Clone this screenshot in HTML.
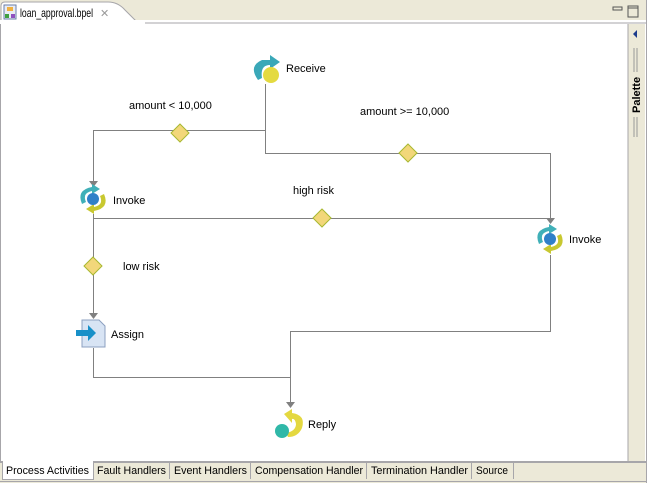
<!DOCTYPE html>
<html><head><style>
body{margin:0;width:647px;height:483px;overflow:hidden;background:#fff;font-family:"Liberation Sans",sans-serif;font-size:11px;}
.abs{position:absolute}
</style></head><body>
<div class="abs" style="left:0;top:0;width:647px;height:483px;background:#ECE9D8"></div>
<div class="abs" style="left:0;top:22px;width:645px;height:440px;background:#fff;border:1px solid #A7A6AA;border-top:none"></div>
<svg class="abs" style="left:0;top:0" width="647" height="483">
<path d="M1,24 L1,6 Q1,2 5,2 L108,2 Q118,2 125,10 L135,20 Q138,23 145,23 L646,23" fill="#fff" stroke="#A7A6AA"/>
<rect x="0" y="20" width="646" height="4" fill="#fff"/>
<line x1="145" y1="23" x2="646" y2="23" stroke="#A7A6AA"/>
<rect x="4" y="5" width="12" height="14" fill="#E8ECF4" stroke="#6A7EA8"/>
<rect x="7" y="7" width="6" height="4" fill="#F0B040"/>
<rect x="5" y="14" width="4" height="4" fill="#40A040"/>
<rect x="11" y="14" width="4" height="4" fill="#9050C0"/>
<text x="20" y="17" font-size="12" fill="#000" textLength="73" lengthAdjust="spacingAndGlyphs">loan_approval.bpel</text>
<text x="100" y="17" font-size="11" fill="#999">✕</text>
<rect x="613" y="7" width="9" height="3" fill="none" stroke="#555"/>
<rect x="628" y="6" width="10" height="11" fill="none" stroke="#555"/>
<line x1="628" y1="8" x2="638" y2="8" stroke="#555"/>
<rect x="628" y="24" width="17" height="437" fill="#ECE9D8"/>
<line x1="628" y1="24" x2="628" y2="461" stroke="#A7A6AA"/>
<path d="M637,30 L633,34 L637,38 Z" fill="#1C3C8C"/>
<line x1="634" y1="48" x2="634" y2="72" stroke="#999"/><line x1="637" y1="48" x2="637" y2="72" stroke="#999"/>
<line x1="634" y1="117" x2="634" y2="137" stroke="#999"/><line x1="637" y1="117" x2="637" y2="137" stroke="#999"/>
<text transform="translate(640,113) rotate(-90)" font-size="11" font-weight="bold" fill="#000">Palette</text>
<g stroke="#808080" fill="none" stroke-width="1">
<path d="M265.5,84 V130.5 H93.5 V182"/>
<path d="M265.5,130 V153.5 H550.5 V219"/>
<path d="M93.5,214 V218.5 H550.5"/>
<path d="M93.5,218 V314"/>
<path d="M93.5,348 V377.5 H290.5"/>
<path d="M550.5,255 V331.5 H290.5 V403"/>
</g>
<g fill="#808080">
<path d="M89,181 L98,181 L93.5,187 Z"/>
<path d="M546,218 L555,218 L550.5,224 Z"/>
<path d="M89,313 L98,313 L93.5,319 Z"/>
<path d="M286,402 L295,402 L290.5,408 Z"/>
</g>
<g fill="#F2D77A" stroke="#A8B830">
<path d="M180,124 L189,133 L180,142 L171,133 Z"/>
<path d="M408,144 L417,153 L408,162 L399,153 Z"/>
<path d="M322,209 L331,218 L322,227 L313,218 Z"/>
<path d="M93,257 L102,266 L93,275 L84,266 Z"/>
</g>
<path d="M258,80 Q248,66 262,60 L270,60 L270,55 L280,62 L270,69 L270,65 Q260,65 262,78 Z" fill="#3AA8B8"/>
<circle cx="271" cy="75" r="8" fill="#E4DA40"/>
<path d="M82,204 Q76,190 92,187 L92,184 L100,189 L92,194 L92,191 Q82,193 86,202 Z" fill="#40B0B8"/>
<path d="M104,194 Q110,208 94,211 L94,214 L86,209 L94,204 L94,207 Q104,205 100,196 Z" fill="#C8C830"/>
<circle cx="93" cy="199" r="6" fill="#3080C8"/>
<path d="M539,244 Q533,230 549,227 L549,224 L557,229 L549,234 L549,231 Q539,233 543,242 Z" fill="#40B0B8"/>
<path d="M561,234 Q567,248 551,251 L551,254 L543,249 L551,244 L551,247 Q561,245 557,236 Z" fill="#C8C830"/>
<circle cx="550" cy="239" r="6" fill="#3080C8"/>
<path d="M82,320 L99,320 L105,326 L105,347 L82,347 Z" fill="#D8E4F4" stroke="#8CA0C0"/>
<path d="M76,330 L88,330 L88,325 L96,333 L88,341 L88,336 L76,336 Z" fill="#1890C8"/>
<path d="M284,414 L292,409 L292,413 Q306,415 302,428 Q298,437 288,437 L286,433 Q296,431 296,424 Q295,418 292,419 L292,423 Z" fill="#E4D840"/>
<circle cx="282" cy="431" r="7" fill="#30B8A8"/>
<g font-size="11" fill="#000">
<text x="286" y="72">Receive</text>
<text x="113" y="204">Invoke</text>
<text x="569" y="243">Invoke</text>
<text x="111" y="338">Assign</text>
<text x="308" y="428">Reply</text>
<text x="129" y="109">amount &lt; 10,000</text>
<text x="360" y="115">amount &gt;= 10,000</text>
<text x="293" y="194">high risk</text>
<text x="123" y="270">low risk</text>
</g>
<rect x="630" y="447" width="13" height="13" fill="#ECE9D8"/>
<line x1="0" y1="461.5" x2="646" y2="461.5" stroke="#A7A6AA"/>
<rect x="2.5" y="461.5" width="91" height="18" fill="#fff" stroke="#A7A6AA"/>
<line x1="3" y1="461.5" x2="93" y2="461.5" stroke="#fff"/>
<g stroke="#A7A6AA"><line x1="169.5" y1="463" x2="169.5" y2="479"/><line x1="250.5" y1="463" x2="250.5" y2="479"/><line x1="366.5" y1="463" x2="366.5" y2="479"/><line x1="471.5" y1="463" x2="471.5" y2="479"/><line x1="513.5" y1="463" x2="513.5" y2="479"/></g>
<g font-size="11" fill="#000" lengthAdjust="spacingAndGlyphs">
<text x="6" y="474" textLength="83" lengthAdjust="spacingAndGlyphs">Process Activities</text>
<text x="97" y="474" textLength="69" lengthAdjust="spacingAndGlyphs">Fault Handlers</text>
<text x="174" y="474" textLength="73" lengthAdjust="spacingAndGlyphs">Event Handlers</text>
<text x="255" y="474" textLength="108" lengthAdjust="spacingAndGlyphs">Compensation Handler</text>
<text x="371" y="474" textLength="97" lengthAdjust="spacingAndGlyphs">Termination Handler</text>
<text x="476" y="474" textLength="32" lengthAdjust="spacingAndGlyphs">Source</text>
</g>
<line x1="0" y1="481.5" x2="647" y2="481.5" stroke="#A7A6AA"/>
<line x1="646.5" y1="0" x2="646.5" y2="483" stroke="#A7A6AA"/>
</svg>
</body></html>
